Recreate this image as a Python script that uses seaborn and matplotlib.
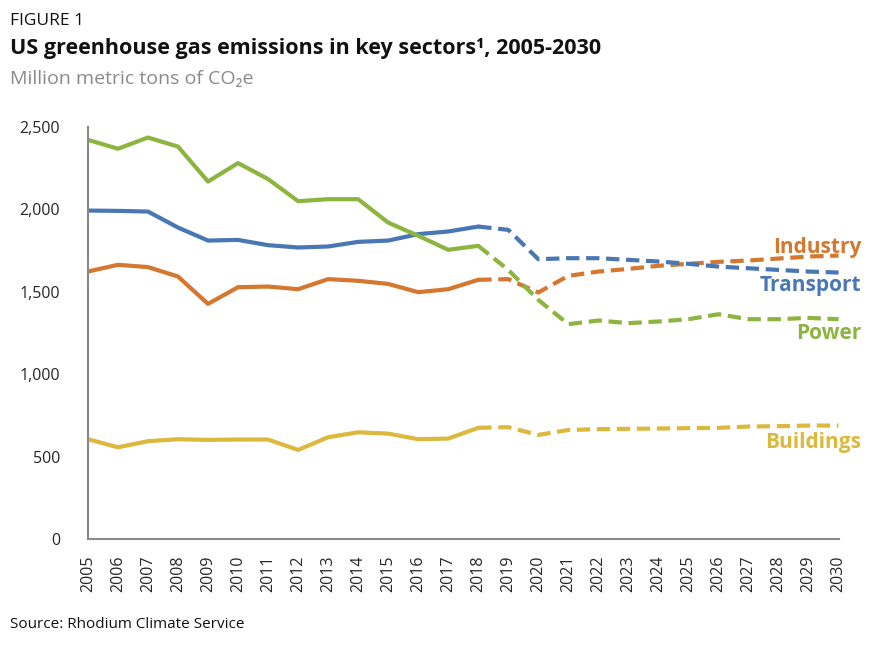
import seaborn as sns
import matplotlib.pyplot as plt
import matplotlib.ticker as mticker
import pandas as pd

years = list(range(2005, 2031))
last_hist = 2018

power = [2421, 2367, 2435, 2380, 2168, 2280, 2183, 2049, 2061, 2061, 1919, 1839, 1754,
         1778, 1632, 1450, 1303, 1325, 1309, 1319, 1333, 1363, 1333, 1333, 1341, 1333]
transport = [1992, 1990, 1986, 1889, 1810, 1814, 1782, 1768, 1774, 1802, 1810, 1849, 1865,
             1895, 1875, 1697, 1703, 1703, 1693, 1683, 1669, 1652, 1642, 1632, 1622, 1616]
industry = [1622, 1663, 1649, 1592, 1426, 1527, 1531, 1515, 1576, 1566, 1547, 1497, 1515,
            1572, 1576, 1495, 1596, 1622, 1638, 1657, 1669, 1681, 1689, 1701, 1713, 1719]
buildings = [605, 556, 593, 605, 601, 603, 603, 540, 617, 647, 639, 605, 609,
             674, 678, 631, 661, 666, 668, 670, 672, 674, 682, 684, 688, 688]

sectors = ["Industry", "Transport", "Power", "Buildings"]
series = {"Industry": industry, "Transport": transport, "Power": power, "Buildings": buildings}
colors = {"Industry": "#d5772e", "Transport": "#4877b4", "Power": "#8cb43e", "Buildings": "#dcb83c"}
label_y = {"Industry": 1770, "Transport": 1540, "Power": 1245, "Buildings": 585}

rows = []
for s in sectors:
    for yr, v in zip(years, series[s]):
        if yr <= last_hist:
            rows.append({"Year": yr, "Value": v, "Sector": s, "Period": "hist"})
        if yr >= last_hist:
            rows.append({"Year": yr, "Value": v, "Sector": s, "Period": "proj"})
data = pd.DataFrame(rows)

sns.set_theme(style="white")
plt.rcParams['font.family'] = ['Open Sans', 'DejaVu Sans']

fig = plt.figure(figsize=(8.79, 6.47), dpi=100)
ax = fig.add_axes([0.100, 0.167, 0.854, 0.637])

sns.lineplot(data=data, x="Year", y="Value", hue="Sector", style="Period",
             palette=colors, dashes={"hist": "", "proj": (3.2, 1.6)},
             linewidth=3, legend=False, ax=ax)

ax.set_xlim(2005, 2030)
ax.set_ylim(0, 2500)
ax.set_xticks(years)
ax.set_xticklabels([str(y) for y in years], rotation=90, fontsize=11.5)
ax.yaxis.set_major_locator(mticker.MultipleLocator(500))
ax.yaxis.set_major_formatter(mticker.FuncFormatter(lambda v, p: f"{int(v):,}"))
ax.tick_params(axis="y", labelsize=11.5, pad=14)
ax.tick_params(axis="x", pad=6)
ax.set_xlabel("")
ax.set_ylabel("")
for side in ["top", "right"]:
    ax.spines[side].set_visible(False)
for side in ["left", "bottom"]:
    ax.spines[side].set_color("#888888")
    ax.spines[side].set_linewidth(1.5)

for s in sectors:
    ax.text(2030.75, label_y[s], s, color=colors[s], fontsize=15, fontweight="bold",
            ha="right", va="center", clip_on=False)

fig.text(0.011, 0.968, "FIGURE 1", fontsize=12.5, va="center", color="#111111")
fig.text(0.011, 0.925, "US greenhouse gas emissions in key sectors\u00b9, 2005-2030",
         fontsize=15.5, fontweight="bold", va="center", color="#111111")
fig.text(0.011, 0.878, "Million metric tons of CO\u2082e", fontsize=14, va="center", color="#8a8a8a")
fig.text(0.011, 0.035, "Source: Rhodium Climate Service", fontsize=11, va="center", color="#111111")

plt.savefig("out.png", dpi=100)
